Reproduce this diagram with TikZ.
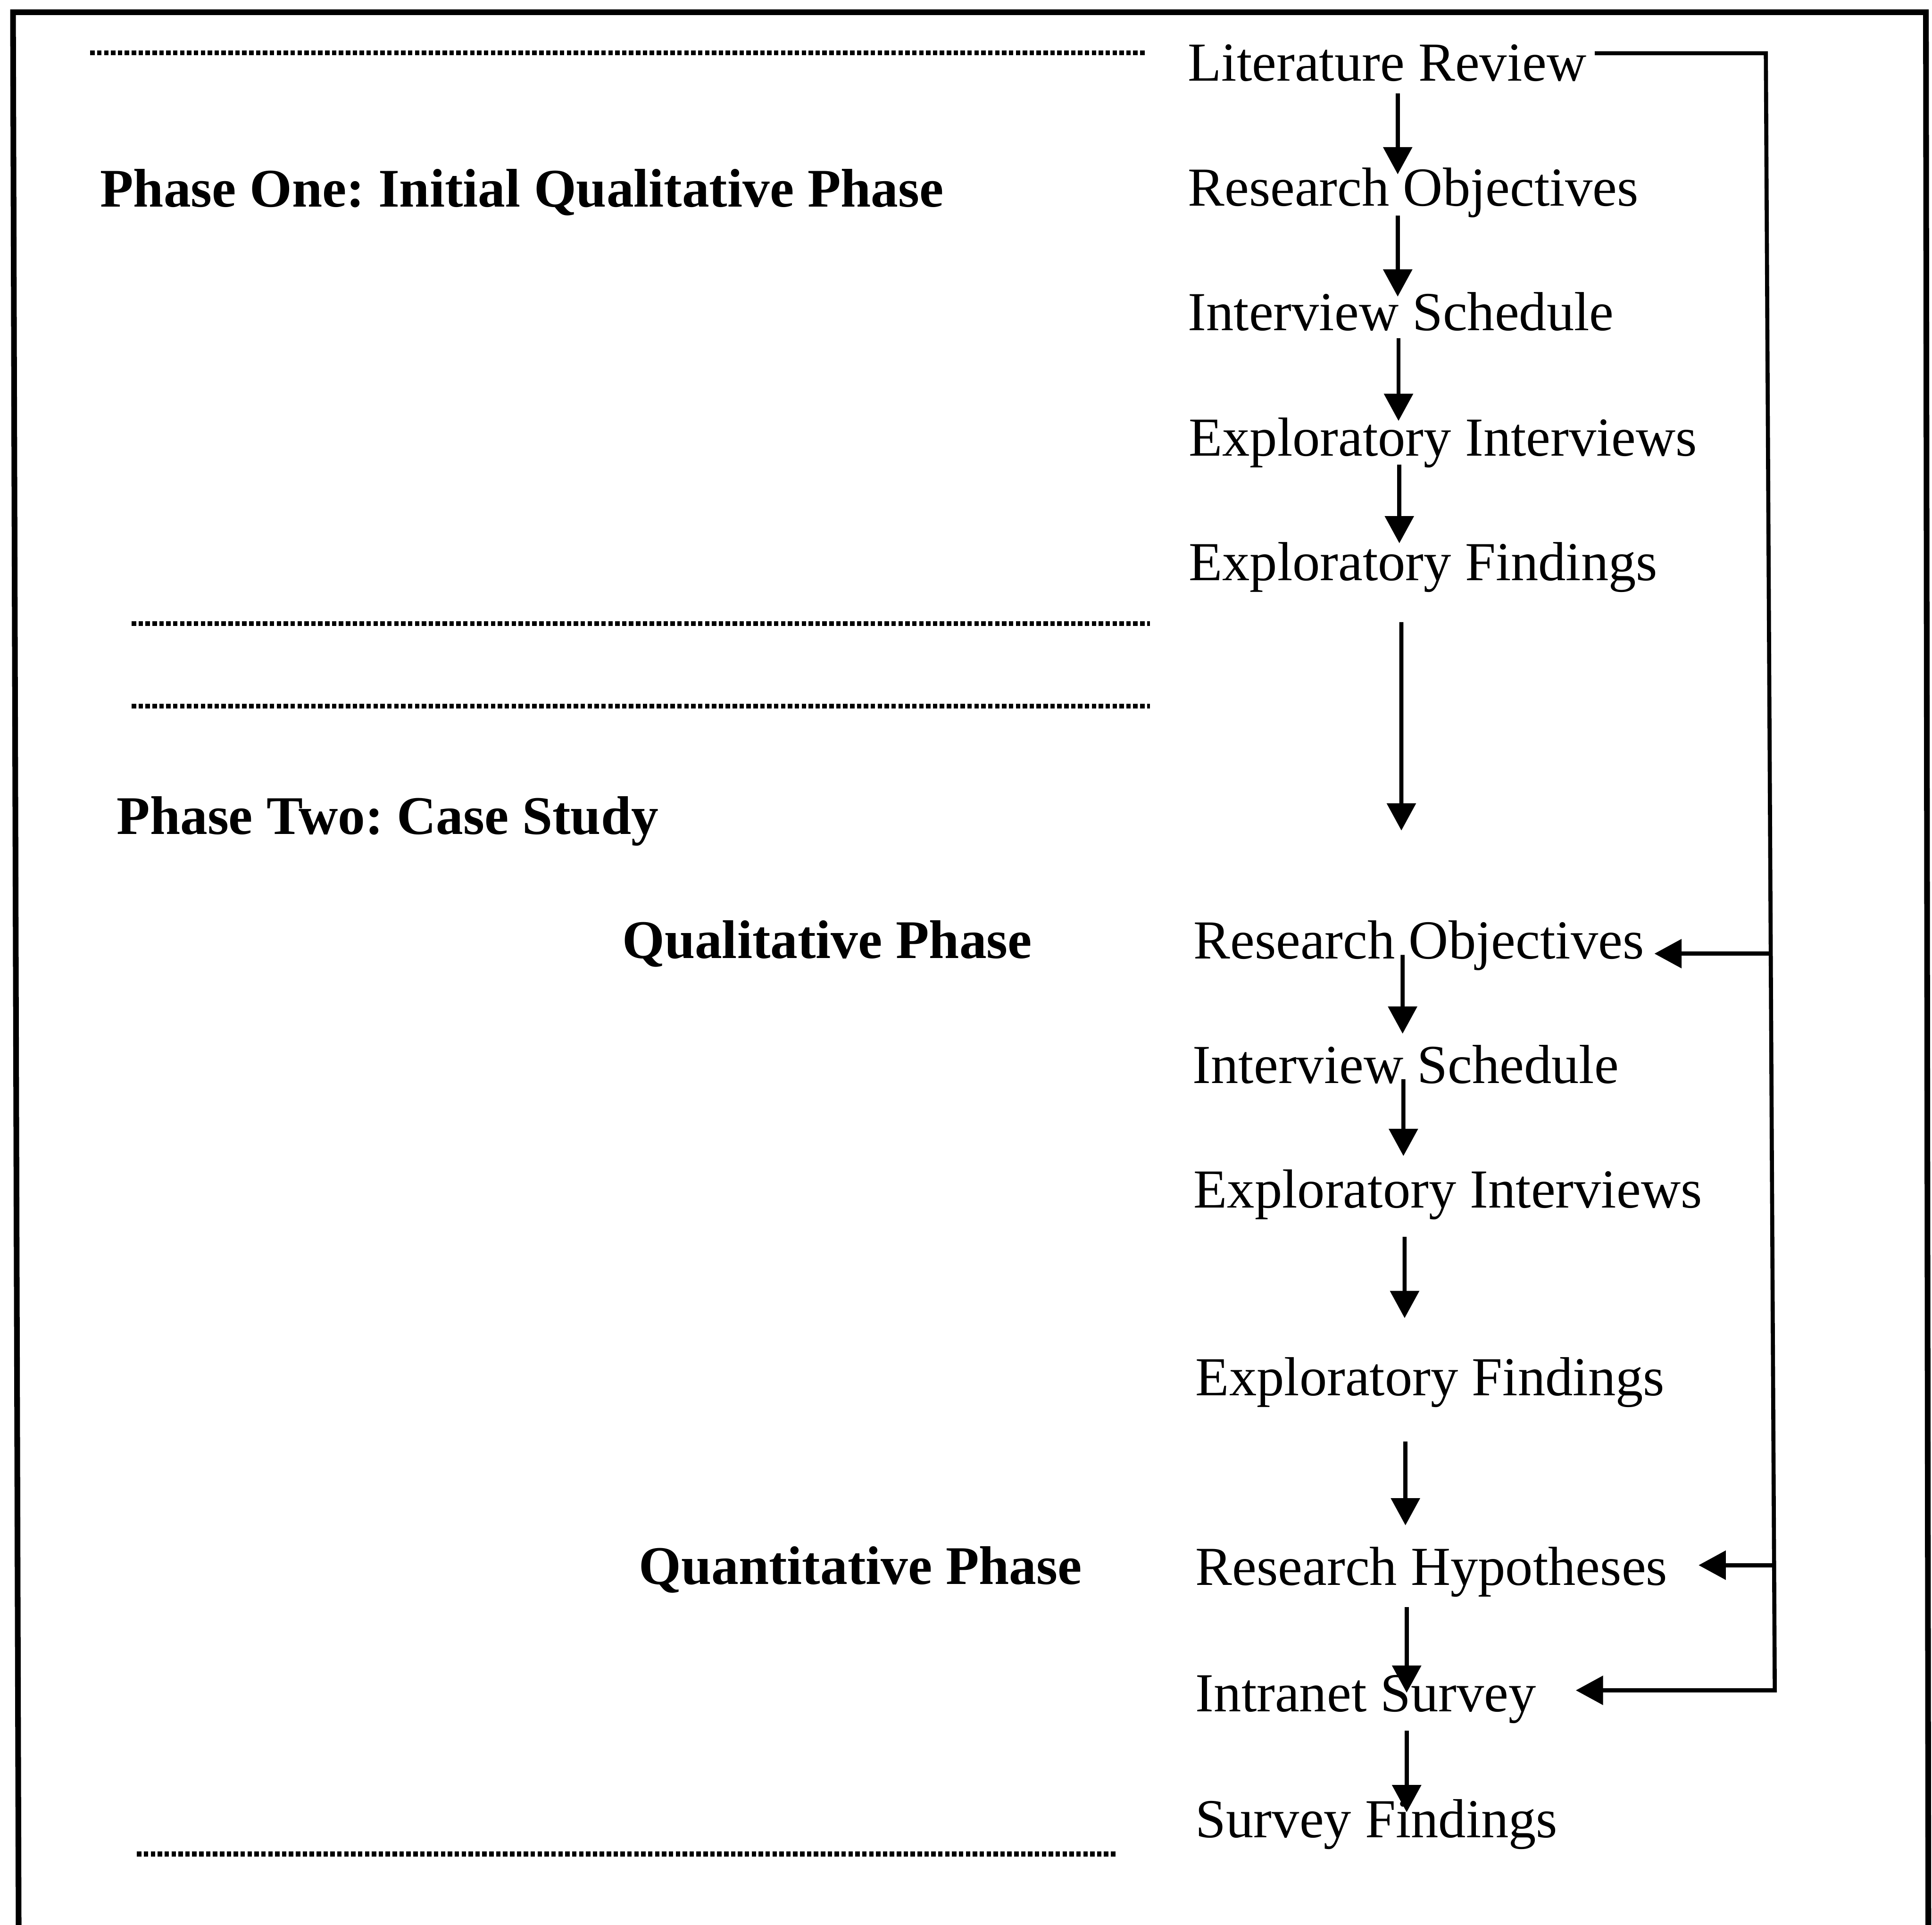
\documentclass[tikz,border=0pt]{standalone}
\usepackage{fontspec}
\setmainfont{Liberation Serif}
\usetikzlibrary{arrows.meta}
\frenchspacing
\begin{document}
\begin{tikzpicture}[
  x=1cm, y=1cm,
  item/.style={anchor=base west, inner sep=0pt, font=\fontsize{38.5pt}{46pt}\selectfont},
  phase/.style={anchor=base west, inner sep=0pt, font=\fontsize{38.1pt}{46pt}\selectfont\bfseries},
  frame/.style={line width=0.14cm, line join=miter},
  arr/.style={line width=0.1cm, line join=miter, -{Triangle[length=0.67cm,width=0.70cm]}},
  rule/.style={line width=0.12cm, dash pattern=on 0.11cm off 0.06cm},
]
\useasboundingbox (0,0) rectangle (47.55,-47.37);

% outer frame (open at the bottom)
\draw[frame] (0.46,-47.8) -- (0.32,-0.30) -- (47.40,-0.30) -- (47.46,-47.8);

% dotted phase separators
\draw[rule] (2.22,-1.30) -- (28.20,-1.30);
\draw[rule] (3.24,-15.35) -- (28.30,-15.35);
\draw[rule] (3.24,-17.38) -- (28.30,-17.38);
\draw[rule] (3.37,-45.63) -- (27.47,-45.63);

% phase headings
\node[phase] (p1)    at (2.46,-5.09)   {Phase One: Initial Qualitative Phase};
\node[phase] (p2)    at (2.87,-20.53)  {Phase Two: Case Study};
\node[phase] (qual)  at (15.31,-23.58) {Qualitative Phase};
\node[phase] (quant) at (15.72,-38.99) {Quantitative Phase};

% process steps
\node[item] (lr)  at (29.23,-1.99)  {Literature Review};
\node[item] (ro1) at (29.23,-5.07)  {Research Objectives};
\node[item] (is1) at (29.23,-8.13)  {Interview Schedule};
\node[item] (ei1) at (29.25,-11.22) {Exploratory Interviews};
\node[item] (ef1) at (29.25,-14.29) {Exploratory Findings};
\node[item] (ro2) at (29.37,-23.60) {Research Objectives};
\node[item] (is2) at (29.35,-26.66) {Interview Schedule};
\node[item] (ei2) at (29.37,-29.72) {Exploratory Interviews};
\node[item] (ef2) at (29.42,-34.35) {Exploratory Findings};
\node[item] (rh)  at (29.42,-39.01) {Research Hypotheses};
\node[item] (isv) at (29.42,-42.12) {Intranet Survey};
\node[item] (sf)  at (29.42,-45.22) {Survey Findings};

% downward flow
\draw[arr] ([shift={(5.17,-0.31)}]lr.base west)  -- ([shift={(5.17,0.78)}]ro1.base west);
\draw[arr] ([shift={(5.17,-0.24)}]ro1.base west) -- ([shift={(5.17,0.83)}]is1.base west);
\draw[arr] ([shift={(5.19,-0.19)}]is1.base west) -- ([shift={(5.17,0.86)}]ei1.base west);
\draw[arr] ([shift={(5.19,-0.21)}]ei1.base west) -- ([shift={(5.19,0.92)}]ef1.base west);
\draw[arr] ([shift={(5.24,-1.02)}]ef1.base west) -- ([shift={(5.12,3.16)}]ro2.base west);
\draw[arr] ([shift={(5.15,0.10)}]ro2.base west)  -- ([shift={(5.17,1.22)}]is2.base west);
\draw[arr] ([shift={(5.19,0.10)}]is2.base west)  -- ([shift={(5.17,1.27)}]ei2.base west);
\draw[arr] ([shift={(5.20,-0.72)}]ei2.base west) -- ([shift={(5.15,1.91)}]ef2.base west);
\draw[arr] ([shift={(5.17,-1.13)}]ef2.base west) -- ([shift={(5.17,1.47)}]rh.base west);
\draw[arr] ([shift={(5.20,-0.54)}]rh.base west)  -- ([shift={(5.20,0.46)}]isv.base west);
\draw[arr] ([shift={(5.20,-0.47)}]isv.base west) -- ([shift={(5.20,0.62)}]sf.base west);

% feedback line from the literature review
\coordinate (cTop) at (43.46,-1.31);
\coordinate (cBot) at (43.68,-41.60);
\coordinate (br1)  at (43.58,-23.47);
\coordinate (br2)  at (43.66,-38.52);
\coordinate (t1) at ([xshift=0.25cm]ro2.base east);
\coordinate (t2) at ([xshift=0.76cm]rh.base east);
\coordinate (t3) at ([xshift=0.97cm]isv.base east);

\draw[arr] ([shift={(0.20,0.68)}]lr.base east) -- (cTop) -- (cBot) -- (cBot -| t3);
\draw[arr] (br1) -- (br1 -| t1);
\draw[arr] (br2) -- (br2 -| t2);
\end{tikzpicture}
\end{document}
